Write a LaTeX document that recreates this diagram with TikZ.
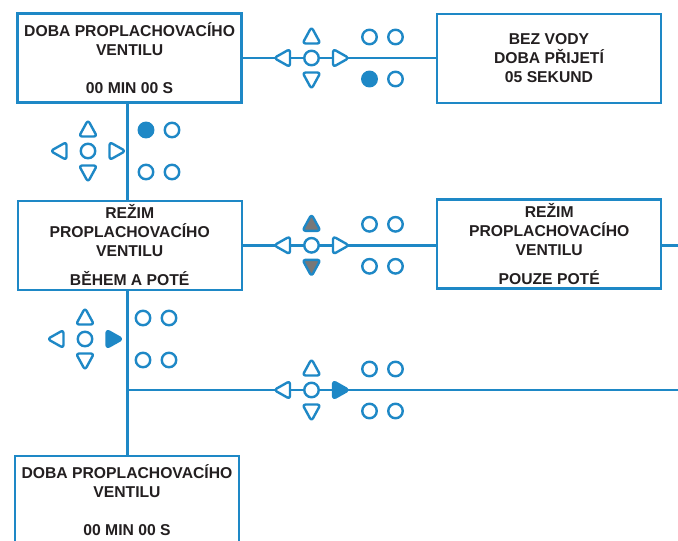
\documentclass[tikz,border=0pt]{standalone}
\usepackage{fontspec}
\setmainfont{Liberation Sans}
\definecolor{kblue}{HTML}{1E88C6}
\definecolor{kgray}{HTML}{787878}
\definecolor{ktext}{HTML}{231F20}
\tikzset{
  box/.style={draw=kblue, line width=2.4pt, fill=white, inner sep=0pt,
    minimum width=224pt, minimum height=89pt, align=center, text=ktext,
    font=\fontsize{15.7}{19}\selectfont\bfseries},
  conn/.style={draw=kblue, line width=2.4pt},
  kp/.style={draw=kblue, line width=2.4pt, fill=white, inner sep=0pt},
  kpc/.style={kp, circle, minimum size=14.5pt},
  led/.style={kp, circle, minimum size=14.5pt},
  tri/.style={kp, rounded corners=3pt, line join=round},
  kpU/.style={}, kpD/.style={}, kpL/.style={}, kpR/.style={},
  ledA/.style={}, ledB/.style={}, ledC/.style={}, ledE/.style={},
  keypad/.pic={
    \node[kpc] (-c) at (0,0) {};
    \path[tri, kpU] (0,-14.5) -- (9,-14.5) -- (0,-31) -- (-9,-14.5) -- cycle;
    \path[tri, kpD] (0,14.5) -- (9,14.5) -- (0,31) -- (-9,14.5) -- cycle;
    \path[tri, kpL] (-21.5,0) -- (-21.5,9) -- (-37.5,0) -- (-21.5,-9) -- cycle;
    \path[tri, kpR] (21.5,0) -- (21.5,9) -- (37.5,0) -- (21.5,-9) -- cycle;
    \node[led, ledA] (-a) at (58,-21) {};
    \node[led, ledB] (-b) at (84,-21) {};
    \node[led, ledC] (-e) at (58,21) {};
    \node[led, ledE] (-f) at (84,21) {};
  }
}
\begin{document}
\begin{tikzpicture}[x=1pt, y=-1pt]
\useasboundingbox (0,0) rectangle (678,541);
% boxes
\node[box] (b1) at (129.6,57.8) {DOBA PROPLACHOVACÍHO\\VENTILU\\[19pt]00 MIN 00 S};
\node[box] (b3) at (549,58.3) {BEZ VODY\\DOBA PŘIJETÍ\\05 SEKUND};
\node[box] (b2) at (129.7,245.3) {REŽIM\\PROPLACHOVACÍHO\\VENTILU\\[10pt]BĚHEM A POTÉ};
\node[box] (b4) at (549.2,244) {REŽIM\\PROPLACHOVACÍHO\\VENTILU\\[10pt]POUZE POTÉ};
\node[box] (b5) at (127,500.5) {DOBA PROPLACHOVACÍHO\\VENTILU\\[19pt]00 MIN 00 S};
% helper coordinates
\coordinate (vl) at (127.5,0);
\coordinate (br) at (127.5,390);
\coordinate (e1) at (678,245.3);
\coordinate (e2) at (678,390);
% connectors
\draw[conn] (b1.east) -- (b1.east -| b3.west);
\draw[conn] (b1.south -| vl) -- (b2.north -| vl);
\draw[conn] (b2.south -| vl) -- (b5.north -| vl);
\draw[conn] (b2.east) -- (b2.east -| b4.west);
\draw[conn] (b4.east |- e1) -- (e1);
\draw[conn] (br) -- (e2);
% keypads
\pic[ledC/.style={fill=kblue}] (k1) at (311.5,58) {keypad};
\pic[ledA/.style={fill=kblue}] (k2) at (88,151) {keypad};
\pic[kpU/.style={fill=kgray}, kpD/.style={fill=kgray}] (k3) at (311.5,245.3) {keypad};
\pic[kpR/.style={fill=kblue}] (k4) at (85,339) {keypad};
\pic[kpR/.style={fill=kblue}] (k5) at (311.5,390) {keypad};
\end{tikzpicture}
\end{document}
